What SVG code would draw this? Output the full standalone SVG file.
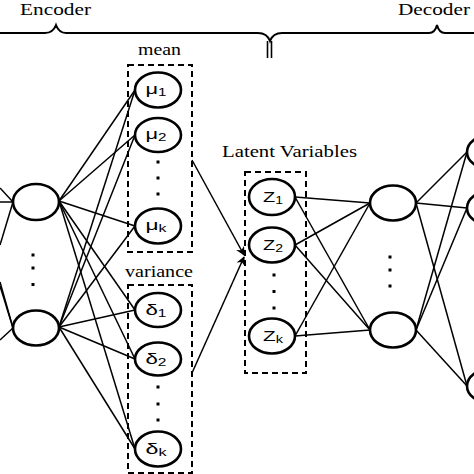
<svg xmlns="http://www.w3.org/2000/svg" width="474" height="474" viewBox="0 0 474 474">
<style>
.node{fill:#fff;stroke:#000;stroke-width:2.6}
.box{fill:none;stroke:#000;stroke-width:2;stroke-dasharray:6,4}
.lbl{font-family:"Liberation Serif","Times New Roman",serif;font-size:17px;fill:#000}
.nl{font-family:"Liberation Sans",Arial,sans-serif;font-size:15px;fill:#000;text-anchor:middle}
.sub{font-size:10.5px}
.c{stroke:#000;stroke-width:1.5;fill:none}
.dot{fill:#000}
</style>
<defs>
<marker id="ah" viewBox="0 0 10 10" refX="9" refY="5" markerWidth="9" markerHeight="9" orient="auto" markerUnits="userSpaceOnUse">
<path d="M0,0 L10,5 L0,10 L3,5 Z" fill="#000"/>
</marker>
</defs>
<rect width="474" height="474" fill="#fff"/>

<g id="braces">
<path class="c" style="stroke-width:2" d="M0,33 H45 Q53,33 56,25 Q59,33 66,33 H258 Q267,33 270,41 Q273,33 282,33 H429 Q435,33 437,25 Q439,33 445,33 H474"/>
<line class="c" x1="267.5" y1="41" x2="267.5" y2="58" style="stroke-width:1.6"/>
<line class="c" x1="271.5" y1="41" x2="271.5" y2="58" style="stroke-width:1.6"/>
<text class="lbl" x="20" y="15" textLength="71" lengthAdjust="spacingAndGlyphs">Encoder</text>
<text class="lbl" x="398" y="15" textLength="72" lengthAdjust="spacingAndGlyphs">Decoder</text>
</g>

<g id="connectors">
<line class="c" x1="0" y1="188" x2="13" y2="202"/>
<line class="c" x1="0" y1="202" x2="13" y2="202"/>
<line class="c" x1="0" y1="245" x2="13" y2="202"/>
<line class="c" x1="0" y1="282" x2="13" y2="328"/>
<line class="c" x1="0" y1="286" x2="13" y2="328"/>
<line class="c" x1="0" y1="340" x2="13" y2="328"/>
<line class="c" x1="59" y1="201" x2="135" y2="90"/>
<line class="c" x1="59" y1="201" x2="135" y2="135"/>
<line class="c" x1="59" y1="201" x2="135" y2="226"/>
<line class="c" x1="59" y1="201" x2="135" y2="310"/>
<line class="c" x1="59" y1="201" x2="135" y2="359"/>
<line class="c" x1="59" y1="201" x2="135" y2="449"/>
<line class="c" x1="59" y1="327" x2="135" y2="90"/>
<line class="c" x1="59" y1="327" x2="135" y2="135"/>
<line class="c" x1="59" y1="327" x2="135" y2="226"/>
<line class="c" x1="59" y1="327" x2="135" y2="310"/>
<line class="c" x1="59" y1="327" x2="135" y2="359"/>
<line class="c" x1="59" y1="327" x2="135" y2="449"/>
<line class="c" x1="192" y1="160" x2="244" y2="255" marker-end="url(#ah)"/>
<line class="c" x1="192" y1="373" x2="244" y2="257" marker-end="url(#ah)"/>
<line class="c" x1="295" y1="197" x2="370" y2="203"/>
<line class="c" x1="295" y1="197" x2="370" y2="330"/>
<line class="c" x1="295" y1="245" x2="370" y2="203"/>
<line class="c" x1="295" y1="245" x2="370" y2="330"/>
<line class="c" x1="295" y1="336" x2="370" y2="203"/>
<line class="c" x1="295" y1="336" x2="370" y2="330"/>
<line class="c" x1="416" y1="203" x2="467" y2="152"/>
<line class="c" x1="416" y1="203" x2="467" y2="208"/>
<line class="c" x1="416" y1="203" x2="467" y2="386"/>
<line class="c" x1="416" y1="330" x2="467" y2="152"/>
<line class="c" x1="416" y1="330" x2="467" y2="208"/>
<line class="c" x1="416" y1="330" x2="467" y2="386"/>
</g>

<g id="enc-hidden-1"><ellipse class="node" cx="36" cy="202" rx="23" ry="18"/></g>
<g id="enc-hidden-dots">
<rect class="dot" x="31.5" y="253.5" width="3" height="3"/>
<rect class="dot" x="31.5" y="266.5" width="3" height="3"/>
<rect class="dot" x="31.5" y="283" width="3" height="3"/>
</g>
<g id="enc-hidden-2"><ellipse class="node" cx="36" cy="328" rx="23" ry="17.5"/></g>

<g id="mean-group">
<text class="lbl" x="138" y="55" textLength="43" lengthAdjust="spacingAndGlyphs">mean</text>
<rect class="box" x="128" y="65" width="64" height="187"/>
</g>
<g id="mu1"><ellipse class="node" cx="158" cy="90" rx="23" ry="17.5"/><text class="nl" x="156" y="94" textLength="21" lengthAdjust="spacingAndGlyphs">μ<tspan class="sub" dy="1.5">1</tspan></text></g>
<g id="mu2"><ellipse class="node" cx="158" cy="135" rx="23" ry="17"/><text class="nl" x="156" y="139" textLength="21" lengthAdjust="spacingAndGlyphs">μ<tspan class="sub" dy="1.5">2</tspan></text></g>
<g id="mu-dots">
<rect class="dot" x="156.5" y="160.5" width="3" height="3"/>
<rect class="dot" x="156.5" y="176.5" width="3" height="3"/>
<rect class="dot" x="156.5" y="192.5" width="3" height="3"/>
</g>
<g id="muk"><ellipse class="node" cx="158" cy="226" rx="23" ry="17.5"/><text class="nl" x="156" y="230" textLength="21" lengthAdjust="spacingAndGlyphs">μ<tspan class="sub" dy="1.5">k</tspan></text></g>

<g id="variance-group">
<text class="lbl" x="125" y="277" textLength="68" lengthAdjust="spacingAndGlyphs">variance</text>
<rect class="box" x="128" y="285" width="64" height="188"/>
</g>
<g id="d1"><ellipse class="node" cx="158" cy="310" rx="23" ry="17"/><text class="nl" x="156" y="315" textLength="21" lengthAdjust="spacingAndGlyphs">δ<tspan class="sub" dy="1.5">1</tspan></text></g>
<g id="d2"><ellipse class="node" cx="158" cy="359" rx="23" ry="16.5"/><text class="nl" x="156" y="364" textLength="21" lengthAdjust="spacingAndGlyphs">δ<tspan class="sub" dy="1.5">2</tspan></text></g>
<g id="d-dots">
<rect class="dot" x="156.5" y="385.5" width="3" height="3"/>
<rect class="dot" x="156.5" y="402.5" width="3" height="3"/>
<rect class="dot" x="156.5" y="418.5" width="3" height="3"/>
</g>
<g id="dk"><ellipse class="node" cx="158" cy="449" rx="23" ry="17.5"/><text class="nl" x="156" y="454" textLength="21" lengthAdjust="spacingAndGlyphs">δ<tspan class="sub" dy="1.5">k</tspan></text></g>

<g id="latent-group">
<text class="lbl" x="222" y="157" textLength="135" lengthAdjust="spacingAndGlyphs">Latent Variables</text>
<rect class="box" x="245" y="172" width="61" height="201"/>
</g>
<g id="z1"><ellipse class="node" cx="272" cy="197" rx="23" ry="18"/><text class="nl" x="273" y="202" textLength="20" lengthAdjust="spacingAndGlyphs">Z<tspan class="sub" dy="1.5">1</tspan></text></g>
<g id="z2"><ellipse class="node" cx="272" cy="245" rx="23" ry="17.5"/><text class="nl" x="273" y="250" textLength="20" lengthAdjust="spacingAndGlyphs">Z<tspan class="sub" dy="1.5">2</tspan></text></g>
<g id="z-dots">
<rect class="dot" x="272.5" y="273.5" width="3" height="3"/>
<rect class="dot" x="272.5" y="290" width="3" height="3"/>
<rect class="dot" x="272.5" y="306.5" width="3" height="3"/>
</g>
<g id="zk"><ellipse class="node" cx="272" cy="336" rx="23" ry="17.5"/><text class="nl" x="273" y="341" textLength="20" lengthAdjust="spacingAndGlyphs">Z<tspan class="sub" dy="1.5">k</tspan></text></g>

<g id="dec-hidden-1"><ellipse class="node" cx="393" cy="203" rx="23" ry="17.5"/></g>
<g id="dec-hidden-dots">
<rect class="dot" x="388.5" y="255.5" width="3" height="3"/>
<rect class="dot" x="388.5" y="268.5" width="3" height="3"/>
<rect class="dot" x="388.5" y="284.5" width="3" height="3"/>
</g>
<g id="dec-hidden-2"><ellipse class="node" cx="393" cy="330" rx="23" ry="17.5"/></g>

<g id="out-1"><ellipse class="node" cx="490" cy="152" rx="23" ry="17"/></g>
<g id="out-2"><ellipse class="node" cx="490" cy="208" rx="23" ry="17"/></g>
<g id="out-3"><ellipse class="node" cx="490" cy="386" rx="23" ry="17"/></g>
</svg>
